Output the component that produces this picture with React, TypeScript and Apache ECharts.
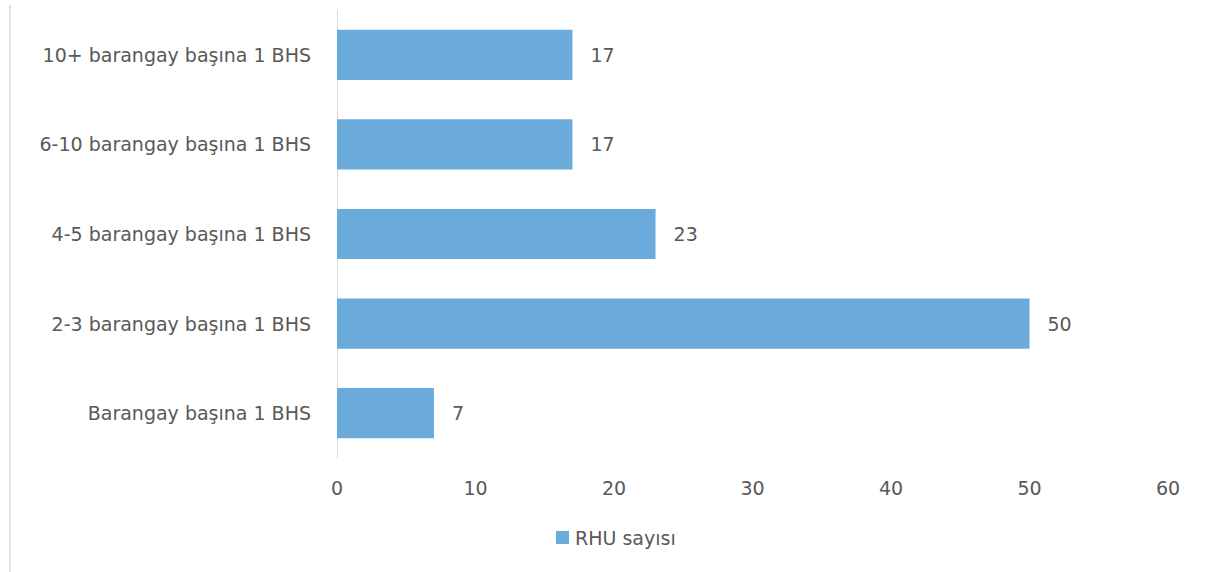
import React, { useEffect, useRef } from "react";
import * as echarts from "echarts";

const categories = [
  "Barangay başına 1 BHS",
  "2-3 barangay başına 1 BHS",
  "4-5 barangay başına 1 BHS",
  "6-10 barangay başına 1 BHS",
  "10+ barangay başına 1 BHS",
];
const values = [7, 50, 23, 17, 17];
const seriesName = "RHU sayısı";

const FONT = "'DejaVu Sans', sans-serif";
const TEXT = "#595959";
const FS = 19;

export default function App() {
  const ref = useRef<HTMLDivElement>(null);
  useEffect(() => {
    if (!ref.current) return;
    const chart = echarts.init(ref.current, undefined, { renderer: "svg" });
    chart.setOption({
      animation: false,
      backgroundColor: "#ffffff",
      textStyle: { fontFamily: FONT },
      grid: { left: 337, right: 47, top: 10, bottom: 114, containLabel: false },
      legend: {
        data: [seriesName],
        left: 556,
        top: 528,
        padding: 0,
        itemWidth: 13,
        itemHeight: 13,
        itemGap: 5,
        icon: "rect",
        textStyle: { color: TEXT, fontSize: FS, fontFamily: FONT, padding: [0, 0, 0, 1] },
      },
      xAxis: {
        type: "value",
        min: 0,
        max: 60,
        interval: 10,
        axisLine: { show: false },
        axisTick: { show: false },
        splitLine: { show: false },
        axisLabel: { color: TEXT, fontSize: FS, fontFamily: FONT, margin: 20 },
      },
      yAxis: {
        type: "category",
        data: categories,
        axisLine: { show: true, lineStyle: { color: "#d9d9d9", width: 1 } },
        axisTick: { show: false },
        axisLabel: { color: TEXT, fontSize: FS, fontFamily: FONT, margin: 26 },
      },
      series: [
        {
          name: seriesName,
          type: "bar",
          data: values,
          barCategoryGap: "44%",
          itemStyle: { color: "#6AABDB" },
          label: {
            show: true,
            position: "right",
            distance: 18,
            color: TEXT,
            fontSize: FS,
            fontFamily: FONT,
          },
        },
      ],
      graphic: [
        {
          type: "line",
          shape: { x1: 10, y1: 5, x2: 10, y2: 572 },
          style: { stroke: "#e3e3e3", lineWidth: 2 },
        },
      ],
    });
    return () => chart.dispose();
  }, []);
  return (
    <div
      ref={ref}
      style={{ position: "fixed", left: 0, top: 0, width: 1215, height: 572 }}
    />
  );
}
